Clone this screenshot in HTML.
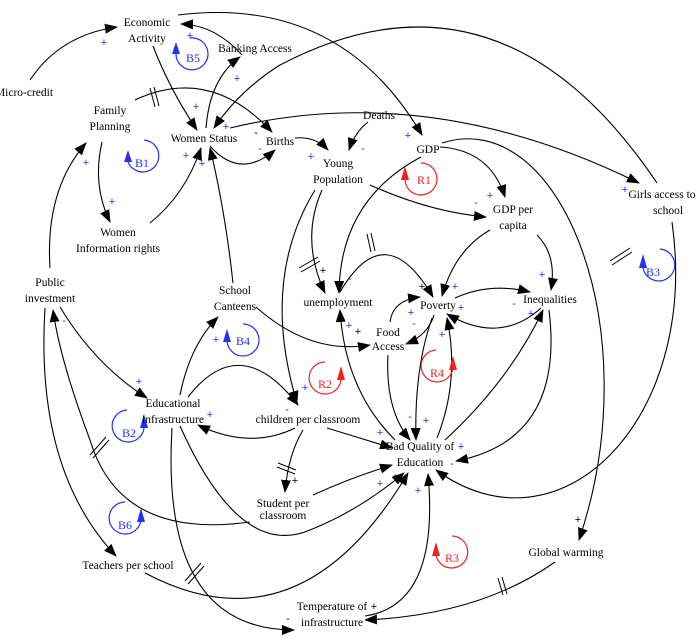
<!DOCTYPE html>
<html><head><meta charset="utf-8"><style>
html,body{margin:0;padding:0;background:#fff;}
svg{display:block;}
text{font-family:"Liberation Serif",serif;font-size:11.5px;fill:#000;text-anchor:middle;}
.p{fill:#2a2aff;font-size:11px;font-family:"Liberation Sans",sans-serif;}
.k{fill:#000;font-size:11px;font-family:"Liberation Sans",sans-serif;}
.e{fill:none;stroke:#000;stroke-width:1.1;marker-end:url(#a);}
.h{stroke:#000;stroke-width:1;}
.lb{fill:none;stroke:#2233ee;stroke-width:1.2;}
.lr{fill:none;stroke:#ee2222;stroke-width:1.2;}
.tb{fill:#2233ee;font-size:12px;}
.tr{fill:#ee2222;font-size:12px;}
</style></head><body>
<svg width="700" height="643" viewBox="0 0 700 643" xmlns="http://www.w3.org/2000/svg">
<defs>
<marker id="a" markerUnits="userSpaceOnUse" markerWidth="14" markerHeight="10" refX="12" refY="5" orient="auto">
<path d="M0,0 L13,5 L0,10 Z" fill="#000"/></marker>
</defs>

<!-- edges -->
<path class="e" d="M30,80 Q60,35 117,27"/>
<path class="e" d="M153,46 Q170,90 197,130"/>
<path class="e" d="M242,55 Q215,25 181,24"/>
<path class="e" d="M206,128 Q210,78 240,57"/>
<path class="e" d="M178,15 Q340,-5 422,135"/>
<path class="e" d="M657,183 Q500,-50 280,65 Q240,90 214,128"/>
<path class="e" d="M230,128 Q430,80 639,183"/>
<path class="e" d="M135,100 Q210,65 272,132"/>
<path class="e" d="M210,146 Q240,180 275,150"/>
<path class="e" d="M295,138 Q315,136 328,150"/>
<path class="e" d="M368,122 Q355,132 349,150"/>
<path class="e" d="M370,185 Q430,212 486,217"/>
<path class="e" d="M440,147 Q490,150 505,197"/>
<path class="e" d="M442,143 C560,105 650,330 579,540"/>
<path class="e" d="M672,222 C700,420 560,560 436,470"/>
<path class="e" d="M421,157 Q340,200 339,293"/>
<path class="e" d="M322,190 Q300,240 325,293"/>
<path class="e" d="M315,190 Q260,280 297,403"/>
<path class="e" d="M340,292 Q385,215 433,297"/>
<path class="e" d="M490,230 Q455,250 442,296"/>
<path class="e" d="M537,235 Q557,255 551,290"/>
<path class="e" d="M455,298 Q490,282 530,292"/>
<path class="e" d="M541,308 Q500,345 447,314"/>
<path class="e" d="M390,322 Q393,300 420,297"/>
<path class="e" d="M434,315 Q428,335 406,344"/>
<path class="e" d="M395,440 Q345,390 340,310"/>
<path class="e" d="M256,307 Q310,355 370,345"/>
<path class="e" d="M388,355 Q385,410 410,440"/>
<path class="e" d="M432,318 Q414,370 416,440"/>
<path class="e" d="M437,438 Q460,380 447,318"/>
<path class="e" d="M445,440 Q510,380 543,310"/>
<path class="e" d="M549,310 Q565,440 456,461"/>
<path class="e" d="M327,428 Q360,438 392,448"/>
<path class="e" d="M313,495 Q350,478 392,465"/>
<path class="e" d="M188,397 Q240,330 298,405"/>
<path class="e" d="M295,428 Q250,450 198,425"/>
<path class="e" d="M303,430 Q288,455 285,492"/>
<path class="e" d="M180,395 Q190,345 218,317"/>
<path class="e" d="M233,283 Q225,210 210,148"/>
<path class="e" d="M150,223 Q185,195 201,148"/>
<path class="e" d="M102,142 Q92,185 110,222"/>
<path class="e" d="M50,268 Q45,190 86,143"/>
<path class="e" d="M60,307 Q95,365 147,398"/>
<path class="e" d="M45,308 Q35,470 116,556"/>
<path class="e" d="M250,522 Q120,540 90,440 Q60,360 53,310"/>
<path class="e" d="M180,426 Q240,560 310,530 Q360,510 404,473"/>
<path class="e" d="M145,573 Q300,655 408,473"/>
<path class="e" d="M172,428 Q160,630 294,630"/>
<path class="e" d="M365,616 Q440,605 428,474"/>
<path class="e" d="M555,562 Q480,615 365,620"/>

<!-- delay hashes -->
<g class="h">
<line x1="150" y1="88" x2="155" y2="107"/><line x1="154" y1="87" x2="159" y2="106"/>
<line x1="299" y1="268" x2="318" y2="257"/><line x1="301" y1="272" x2="320" y2="261"/>
<line x1="367" y1="234" x2="371" y2="252"/><line x1="371" y1="233" x2="375" y2="251"/>
<line x1="610" y1="261" x2="630" y2="248"/><line x1="612" y1="265" x2="632" y2="252"/>
<line x1="278" y1="463" x2="296" y2="470"/><line x1="277" y1="467" x2="295" y2="474"/>
<line x1="90" y1="455" x2="106" y2="437"/><line x1="93" y1="458" x2="109" y2="440"/>
<line x1="185" y1="581" x2="201" y2="563"/><line x1="188" y1="584" x2="204" y2="566"/>
<line x1="498" y1="578" x2="503" y2="595"/><line x1="502" y1="577" x2="507" y2="594"/>
</g>

<!-- loops -->
<path class="lb" d="M190,38 A16,16 0 1 1 176,54"/><polygon points="172,54 180,54 176,42" fill="#2233ee"/><text class="tb" x="193" y="62">B5</text>
<path class="lb" d="M144,140 A16,16 0 1 1 128,162"/><polygon points="124,162 132,162 128,150" fill="#2233ee"/><text class="tb" x="142" y="167">B1</text>
<path class="lr" d="M421,163 A16,16 0 1 1 405,180"/><polygon points="401,180 409,180 405,166" fill="#ee2222"/><text class="tr" x="424" y="184">R1</text>
<path class="lb" d="M243,324 A16,16 0 1 1 227,340"/><polygon points="223,342 231,342 227,329" fill="#2233ee"/><text class="tb" x="243" y="345">B4</text>
<path class="lr" d="M325,362 A16,16 0 1 0 341,380"/><polygon points="337,380 345,380 341,366" fill="#ee2222"/><text class="tr" x="325" y="388">R2</text>
<path class="lr" d="M436,350 A16,16 0 1 0 453,368"/><polygon points="449,370 457,370 453,356" fill="#ee2222"/><text class="tr" x="437" y="377">R4</text>
<path class="lb" d="M660,249 A16,16 0 1 1 643,268"/><polygon points="639,268 647,268 643,254" fill="#2233ee"/><text class="tb" x="653" y="276">B3</text>
<path class="lb" d="M127,410 A16,16 0 1 0 144,428"/><polygon points="140,428 148,428 144,414" fill="#2233ee"/><text class="tb" x="129" y="437">B2</text>
<path class="lb" d="M125,502 A16,16 0 1 0 141,520"/><polygon points="137,522 145,522 141,508" fill="#2233ee"/><text class="tb" x="125" y="529">B6</text>
<path class="lr" d="M452,536 A16,16 0 1 1 436,555"/><polygon points="432,556 440,556 436,542" fill="#ee2222"/><text class="tr" x="452" y="562">R3</text>

<!-- nodes -->
<text x="147" y="26">Economic</text><text x="147" y="42">Activity</text>
<text x="255" y="52">Banking Access</text>
<text x="24" y="96">Micro-credit</text>
<text x="110" y="114">Family</text><text x="110" y="130">Planning</text>
<text x="204" y="142">Women Status</text>
<text x="280" y="145">Births</text>
<text x="379" y="119">Deaths</text>
<text x="338" y="167">Young</text><text x="338" y="183">Population</text>
<text x="428" y="153">GDP</text>
<text x="513" y="213">GDP per</text><text x="513" y="229">capita</text>
<text x="662" y="198">Girls access to</text><text x="668" y="214">school</text>
<text x="118" y="236">Women</text><text x="118" y="252">Information rights</text>
<text x="50" y="286">Public</text><text x="50" y="302">investment</text>
<text x="235" y="294">School</text><text x="235" y="310">Canteens</text>
<text x="338" y="306">unemployment</text>
<text x="438" y="309">Poverty</text>
<text x="550" y="303">Inequalities</text>
<text x="388" y="336">Food</text><text x="388" y="350">Access</text>
<text x="173" y="407">Educational</text><text x="173" y="423">infrastructure</text>
<text x="308" y="423">children per classroom</text>
<text x="420" y="450">Bad Quality of</text><text x="420" y="466">Education</text>
<text x="283" y="507">Student per</text><text x="283" y="519">classroom</text>
<text x="128" y="569">Teachers per school</text>
<text x="332" y="610">Temperature of</text><text x="332" y="626">infrastructure</text>
<text x="566" y="556">Global warming</text>

<!-- polarities -->
<text class="p" x="104" y="46">+</text>
<text class="p" x="190" y="39">+</text>
<text class="p" x="237" y="82">+</text>
<text class="p" x="196" y="110">+</text>
<text class="p" x="226" y="130">+</text>
<text class="k" x="256" y="136">-</text>
<text class="p" x="260" y="152">-</text>
<text class="p" x="86" y="166">+</text>
<text class="p" x="112" y="205">+</text>
<text class="p" x="186" y="159">+</text>
<text class="p" x="202" y="167">+</text>
<text class="p" x="311" y="160">+</text>
<text class="p" x="363" y="152">-</text>
<text class="p" x="408" y="139">+</text>
<text class="p" x="490" y="199">+</text>
<text class="p" x="476" y="206">-</text>
<text class="p" x="625" y="193">+</text>
<text class="k" x="323" y="274">+</text>
<text class="p" x="350" y="282">-</text>
<text class="k" x="422" y="290">+</text>
<text class="p" x="455" y="290">+</text>
<text class="p" x="461" y="311">+</text>
<text class="p" x="542" y="278">+</text>
<text class="p" x="514" y="307">-</text>
<text class="p" x="531" y="317">+</text>
<text class="p" x="411" y="316">+</text>
<text class="p" x="414" y="327">-</text>
<text class="p" x="349" y="329">+</text>
<text class="k" x="358" y="335">+</text>
<text class="p" x="442" y="338">+</text>
<text class="p" x="410" y="420">-</text>
<text class="p" x="426" y="424">+</text>
<text class="p" x="380" y="436">+</text>
<text class="p" x="461" y="450">+</text>
<text class="p" x="452" y="467">-</text>
<text class="p" x="380" y="487">+</text>
<text class="p" x="395" y="478">-</text>
<text class="p" x="418" y="494">+</text>
<text class="p" x="305" y="391">+</text>
<text class="p" x="287" y="413">-</text>
<text class="p" x="210" y="418">+</text>
<text class="p" x="216" y="343">+</text>
<text class="p" x="139" y="385">+</text>
<text class="p" x="64" y="324">-</text>
<text class="k" x="295" y="484">+</text>
<text class="k" x="578" y="523">+</text>
<text class="k" x="374" y="610">+</text>
<text class="k" x="288" y="622">-</text>
</svg>
</body></html>
